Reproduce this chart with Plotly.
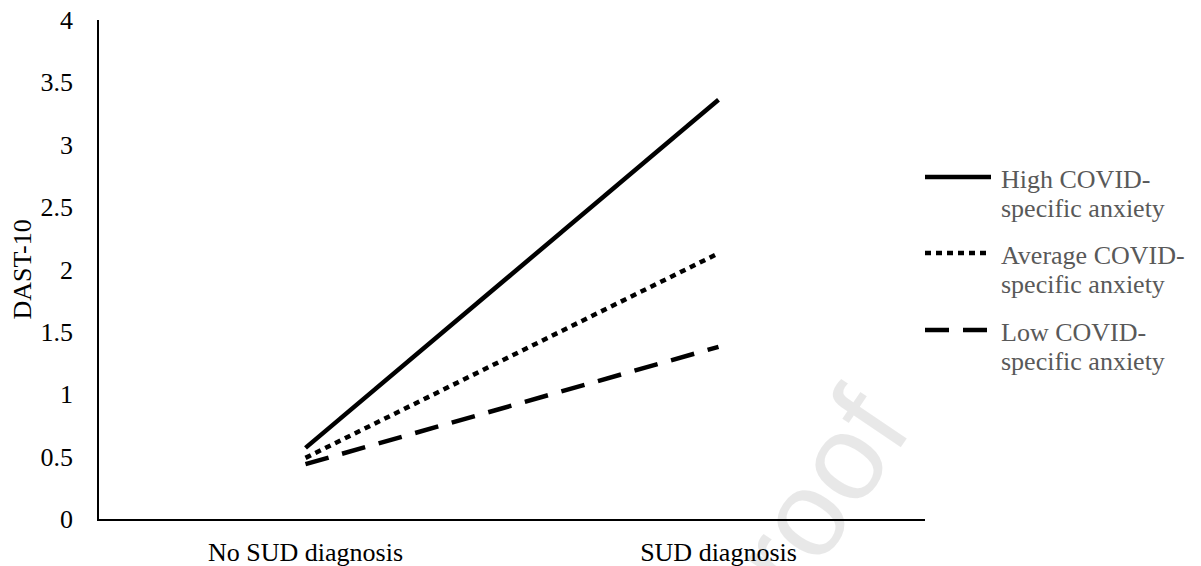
import plotly.graph_objects as go

categories = ["No SUD diagnosis", "SUD diagnosis"]
series_names = ["High COVID-specific anxiety", "Average COVID-specific anxiety", "Low COVID-specific anxiety"]
legend_lines = [["High COVID-", "specific anxiety"],
                ["Average COVID-", "specific anxiety"],
                ["Low COVID-", "specific anxiety"]]
high_vals = [0.57, 3.36]
avg_vals = [0.49, 2.13]
low_vals = [0.44, 1.38]
y_ticks = [0, 0.5, 1, 1.5, 2, 2.5, 3, 3.5, 4]
y_ticktext = ["0", "0.5", "1", "1.5", "2", "2.5", "3", "3.5", "4"]
y_title = "DAST-10"

FONT = "Liberation Serif"
FS = 26
dashes = ["solid", "6px,5px", "24px,14px"]
values = [high_vals, avg_vals, low_vals]

fig = go.Figure()
xpos = list(range(len(categories)))
for name, vals, dash in zip(series_names, values, dashes):
    fig.add_trace(go.Scatter(
        x=xpos, y=vals, mode="lines", name=name,
        line=dict(color="black", width=4.5, dash=dash),
        showlegend=False, hoverinfo="skip"))

# page body margin is removed below, so the figure starts at the page corner
OFF = 0
W, H = 1201 - OFF, 566 - OFF
# desired plot area in page pixels: x 99..925, y 20..519
ml, mt = 99 - OFF, 20 - OFF
mr = W - (925 - OFF)
mb = H - (519 - OFF)
pw, ph = W - ml - mr, H - mt - mb

def px_x(p):  # page pixel -> paper
    return (p - OFF - ml) / pw

def px_y(p):
    return (H - mb - (p - OFF)) / ph

legend_y = [177, 253, 330]
shapes = []
annotations = []
for ly, lines, dash in zip(legend_y, legend_lines, dashes):
    shapes.append(dict(type="line", xref="paper", yref="paper",
                       x0=px_x(925), x1=px_x(991), y0=px_y(ly), y1=px_y(ly),
                       line=dict(color="black", width=4.5, dash=dash)))
    for k, txt in enumerate(lines):
        annotations.append(dict(xref="paper", yref="paper", x=px_x(999), y=px_y(ly + 2 + 29 * k),
                                xanchor="left", yanchor="middle", align="left", showarrow=False,
                                text=txt, font=dict(family=FONT, size=FS, color="#595959")))

# y-axis title
annotations.append(dict(xref="paper", yref="paper", x=px_x(22), y=0.5,
                        xanchor="center", yanchor="middle", showarrow=False,
                        text=y_title, textangle=-90,
                        font=dict(family=FONT, size=FS, color="black")))

# faint watermark
annotations.append(dict(xref="paper", yref="paper", x=px_x(820), y=px_y(492),
                        xanchor="center", yanchor="middle", showarrow=False,
                        text="roof", textangle=-56,
                        font=dict(family="Liberation Sans", size=122,
                                  color="rgba(0,0,0,0.09)")))

fig.update_layout(
    width=W, height=H,
    margin=dict(l=ml, r=mr, t=mt, b=mb, autoexpand=False),
    paper_bgcolor="white", plot_bgcolor="white",
    showlegend=False,
    shapes=shapes, annotations=annotations,
    font=dict(family=FONT, size=FS, color="black"),
)
fig.update_xaxes(
    range=[-0.5, 1.5], tickvals=xpos, ticktext=categories,
    showline=True, linecolor="black", linewidth=1.5, showgrid=False, zeroline=False,
    ticks="", ticklabelstandoff=9, ticklabeloverflow="allow", automargin=False,
    tickfont=dict(family=FONT, size=FS, color="black"),
)
fig.update_yaxes(
    range=[0, 4], tickvals=y_ticks, ticktext=y_ticktext,
    showline=True, linecolor="black", linewidth=1.5, showgrid=False, zeroline=False,
    ticks="", ticklabelstandoff=19, ticklabeloverflow="allow", automargin=False,
    tickfont=dict(family=FONT, size=FS, color="black"),
)

fig.write_html("out.html",
               config={"displayModeBar": False},
               post_script="document.body.style.margin='0px';document.body.style.overflow='hidden';")
